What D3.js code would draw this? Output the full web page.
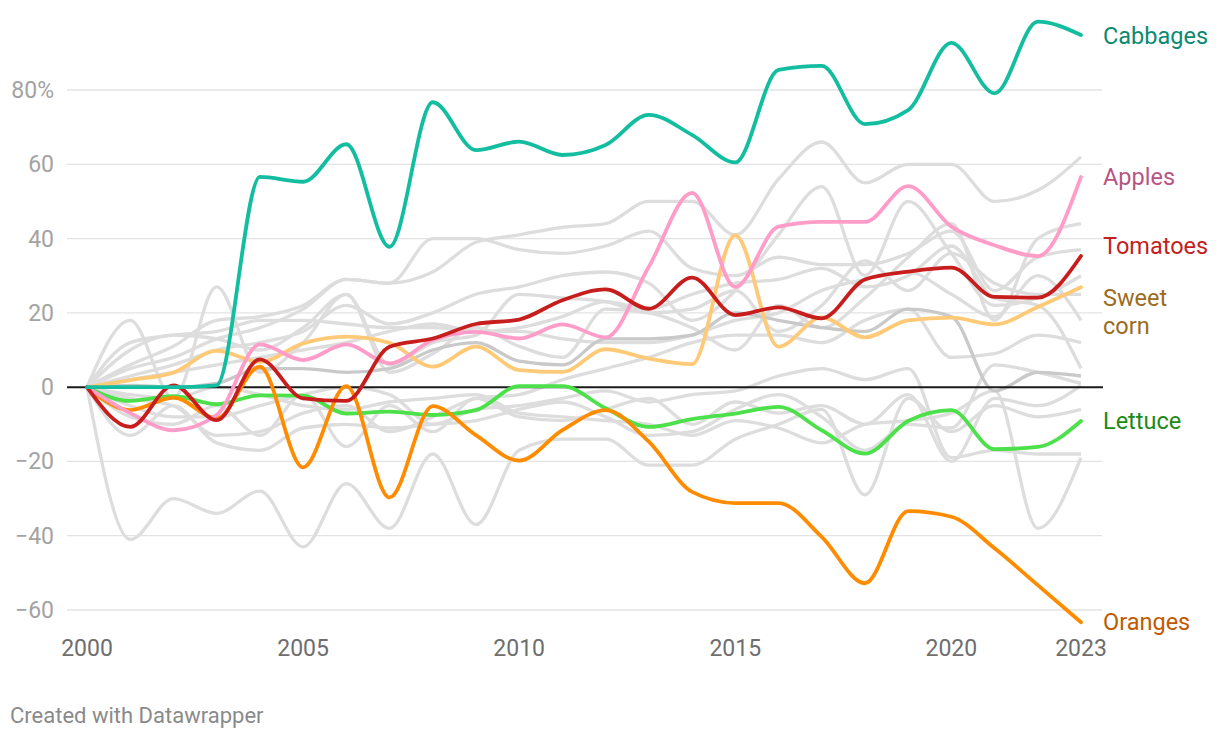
<!DOCTYPE html>
<html><head><meta charset="utf-8">
<script src="https://cdn.jsdelivr.net/npm/d3@7"></script>
<style>
html,body{margin:0;padding:0;background:#fff;}
svg{display:block;font-family:Roboto,"Noto Sans",sans-serif;}
</style></head>
<body>
<svg id="c" width="1220" height="738"></svg>
<script>
const years = d3.range(2000, 2024);
const yTicks = [-60,-40,-20,0,20,40,60,80];
const xTicks = [2000,2005,2010,2015,2020,2023];

const cabbages = [0,0,0,0.5,56.6,55.3,65.4,37.8,76.7,63.8,66.1,62.5,65.2,73.3,67.9,60.5,85.4,86.5,70.8,74.6,92.7,79.1,98.4,94.8];
const apples   = [0,-7,-11.6,-7.5,11.5,7.3,11.5,6.4,12.7,14.9,13.1,16.9,13.4,32.4,52.3,27,43.2,44.5,44.5,54.1,43.2,38.2,35.3,56.6];
const tomatoes = [0,-10.7,0.5,-8.9,7.5,-3,-3.7,10.9,13.1,17,18.2,23.4,26.3,21.1,29.5,19.4,21.5,18.5,29,31.1,32.2,24.3,24.1,35.3];
const sweetcorn= [0,1.9,3.9,9.8,6.8,11.8,13.6,11.9,5.5,10.9,4.6,4.1,10.2,7.7,6.2,40.9,10.9,18.8,13.4,18,18.7,16.9,21.6,26.9];
const lettuce  = [0,-3.7,-2.4,-4.6,-2.2,-2.3,-7.1,-6.6,-7.5,-6.2,0.3,0.3,-5.7,-10.7,-8.6,-7.1,-5.3,-11.6,-17.9,-9.1,-6.2,-16.7,-16.1,-9.1];
const oranges  = [0,-6.2,-2.8,-8.4,5.5,-21.6,0.3,-29.7,-5.1,-12.9,-19.8,-11.6,-6.2,-14.7,-28.2,-31.2,-31.2,-40.3,-52.8,-33.4,-34.9,-43.4,-53.3,-63.3];

const darkGray = [0,0.5,0,1,5,5,4,5,10,12,7,6,13,13,14,20,18,16,15,21,19,-1,4,3];
const gray01 = [0,-41,-30,-34,-28,-43,-26,-38,-18,-37,-17,-14,-14,-21,-21,-14,-10,-6,-29,-3,-12,-5,-8,-6];
const gray02 = [0,6,11,18,19,22,29,28,31,39,41,43,44,50,50,41,56,66,55,60,60,50,53,62];
const gray03 = [0,5,8,13,16,21,29,28,40,40,37,36,38,42,32,30,35,33,33,36,42,26,35,37];
const gray04 = [0,3,6,10,12,15,22,17,20,25,27,30,31,28,18,26,41,54,30,50,36,22,24,30];
const gray05 = [0,18,-3,27,4,12,25,4,9,16,11,8,21,20,16,10,22,16,24,35,44,18,40,44];
const gray06 = [0,-8,-10,-5,-13,-2,-16,-5,-12,-3,-8,-9,-6,-3,-10,-4,-7,-5,-10,-2,-20,-3,-5,0.5];
const gray07 = [0,-13,-5,-15,-17,-11,-10,-11,-10,-9,-6,-4,-8,-13,-12,-6,-2,-8,-17,-10,-11,6,4,1];
const gray08 = [0,10,14,13,10,16,25,6,12,14,25,24,23,20,21,26,15,22,34,26,36,28,25,25];
const gray09 = [0,12,14,15,18,18,17,16,16,15,15,13,12,12,14,18,20,26,29,31,25,19,30,18];
const gray10 = [0,-3,-5,-13,-12,-7,-5,-12,-8,-3,-2,2,5,8,12,14,14,12,18,21,8,9,14,12];
const gray11 = [0,-5,-8,-8,-5,-2,0,-2,-10,-6,-5,-3,-1,-4,-2,-1,3,5,2,5,-19,-17,-18,-18];
const gray12 = [0,-2,-3,0,-2,-5,-6,-4,-3,-2,-7,-8,-9,-10,-13,-9,-11,-15,-10,-9,-7,-1,-38,-19];
const gray13 = [0,2,4,6,8,10,12,15,17,15,16,19,23,21,25,28,29,32,27,30,38,24,22,5];

const grayLines = [gray01,gray02,gray03,gray04,gray05,gray06,gray07,gray08,gray09,gray10,gray11,gray12,gray13];

const highlight = [
  {name:"Lettuce", values:lettuce, color:"#4ce04a", label:"#1c8a13", lines:["Lettuce"], nudge:0},
  {name:"Oranges", values:oranges, color:"#ff8c00", label:"#c05a00", lines:["Oranges"], nudge:0},
  {name:"Sweet corn", values:sweetcorn, color:"#ffca78", label:"#9b6c1d", lines:["Sweet","corn"], nudge:25},
  {name:"Apples", values:apples, color:"#ff9dc8", label:"#b85482", lines:["Apples"], nudge:0},
  {name:"Tomatoes", values:tomatoes, color:"#c71e1d", label:"#c41e1e", lines:["Tomatoes"], nudge:-10},
  {name:"Cabbages", values:cabbages, color:"#13bd9f", label:"#0b8a72", lines:["Cabbages"], nudge:1}
];

const svg = d3.select("#c");
const x = d3.scaleLinear().domain([2000,2023]).range([87,1081]);
const y = d3.scaleLinear().domain([-60,80]).range([610,90]);

// grid
svg.append("g").selectAll("line").data(yTicks.filter(d=>d!==0)).join("line")
  .attr("x1",67).attr("x2",1102).attr("y1",d=>y(d)).attr("y2",d=>y(d))
  .attr("stroke","#e3e3e3").attr("stroke-width",1.3);

// y labels
svg.append("g").selectAll("text").data(yTicks).join("text")
  .attr("x",54).attr("y",d=>y(d)).attr("dy","0.35em").attr("text-anchor","end")
  .attr("font-size",23).attr("fill","#a3a3a3")
  .text(d=> d===80 ? "80%" : (d<0 ? "\u2212"+Math.abs(d) : String(d)));

// x labels
svg.append("g").selectAll("text").data(xTicks).join("text")
  .attr("x",d=>x(d)).attr("y",656).attr("text-anchor","middle")
  .attr("font-size",23).attr("fill","#6e6e6e").text(d=>d);

const line = d3.line().x((d,i)=>x(years[i])).y(d=>y(d)).curve(d3.curveMonotoneX);

svg.append("g").selectAll("path").data(grayLines).join("path")
  .attr("d",line).attr("fill","none").attr("stroke","#dddddd").attr("stroke-width",3.3);
svg.append("path").attr("d",line(darkGray)).attr("fill","none").attr("stroke","#c9c9c9").attr("stroke-width",3.3);

// zero line
svg.append("line").attr("x1",67).attr("x2",1103).attr("y1",y(0)).attr("y2",y(0))
  .attr("stroke","#1a1a1a").attr("stroke-width",2);

svg.append("g").selectAll("path").data(highlight).join("path")
  .attr("d",d=>line(d.values)).attr("fill","none").attr("stroke",d=>d.color)
  .attr("stroke-width",3.8).attr("stroke-linejoin","round").attr("stroke-linecap","round");

// series labels
const lab = svg.append("g");
highlight.forEach(s=>{
  const last = s.values[s.values.length-1];
  const t = lab.append("text").attr("x",1103).attr("font-size",23.5).attr("fill",s.label);
  const n = s.lines.length;
  s.lines.forEach((l,i)=>{
    t.append("tspan").attr("x",1103).attr("y", y(last) + s.nudge + (i-(n-1)/2)*28).attr("dy","0.35em").text(l);
  });
});

svg.append("text").attr("x",10).attr("y",723).attr("font-size",22).attr("fill","#8a8a8a").text("Created with Datawrapper");
</script>
</body></html>
